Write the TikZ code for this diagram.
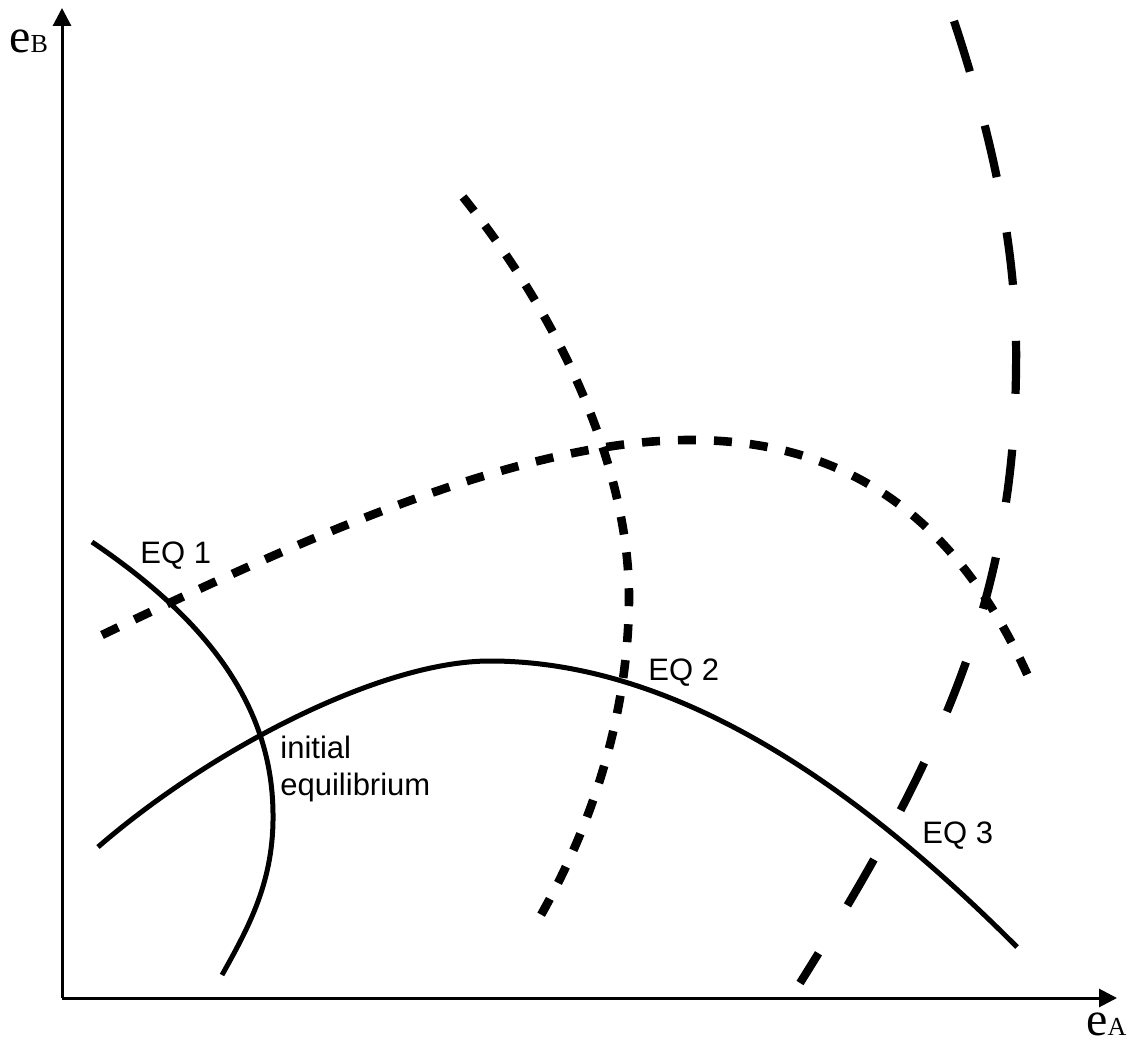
\documentclass[tikz,border=0pt]{standalone}
\usepackage{fontspec}
\setmainfont{Liberation Serif}
\newfontfamily\labelfont{Liberation Sans}
\usetikzlibrary{arrows.meta}

\begin{document}
\begin{tikzpicture}[x=0.5pt,y=-0.5pt,
    axis/.style={line width=1.5pt,-{Triangle[length=9pt,width=9pt]}},
    curve/.style={line width=2.5pt},
    shortdash/.style={line width=4.3pt,dash pattern=on 9pt off 9pt},
    longdash/.style={line width=4.1pt,dash pattern=on 26.5pt off 28pt},
    eqlabel/.style={font=\labelfont\fontsize{15.5}{18}\selectfont,anchor=base west,inner sep=0pt}]
  \useasboundingbox (0,0) rectangle (1141,1043);
  \coordinate (O) at (62,998);
  \coordinate (ytip) at (62,8);
  \coordinate (xtip) at (1117,998);
  \draw[axis] (O) -- (ytip);
  \draw[axis] (O) -- (xtip);
  \node[anchor=base west,inner sep=0pt] (eB) at (9,53) {\fontsize{24}{24}\selectfont e\fontsize{13}{13}\selectfont B};
  \node[anchor=base west,inner sep=0pt] (eA) at (1086,1035) {\fontsize{24}{24}\selectfont e\fontsize{13}{13}\selectfont A};

  \draw[curve] (92,542) .. controls (200,615) and (272,700) .. (273,813)
    .. controls (274,880) and (250,925) .. (222,975);
  \draw[curve] (98,847) .. controls (210,750) and (380,661) .. (490,661)
    .. controls (700,661) and (890,820) .. (1017,947);
  \draw[shortdash] (102,635) .. controls (300,540) and (520,440) .. (690,440)
    .. controls (850,440) and (960,520) .. (1032,685);
  \draw[shortdash] (463,197) .. controls (570,330) and (630,480) .. (629,600)
    .. controls (628,720) and (590,830) .. (537,922);
  \draw[longdash] (954,21) .. controls (1000,160) and (1018,270) .. (1016,370)
    .. controls (1014,600) and (940,760) .. (800,983);

  \node[eqlabel] (eq1) at (140,563) {EQ 1};
  \node[eqlabel] (eq2) at (648,680) {EQ 2};
  \node[eqlabel] (eq3) at (922,843) {EQ 3};
  \node[eqlabel] (init) at (280,758) {initial};
  \node[eqlabel] (equil) at (280,795) {equilibrium};
\end{tikzpicture}
\end{document}
